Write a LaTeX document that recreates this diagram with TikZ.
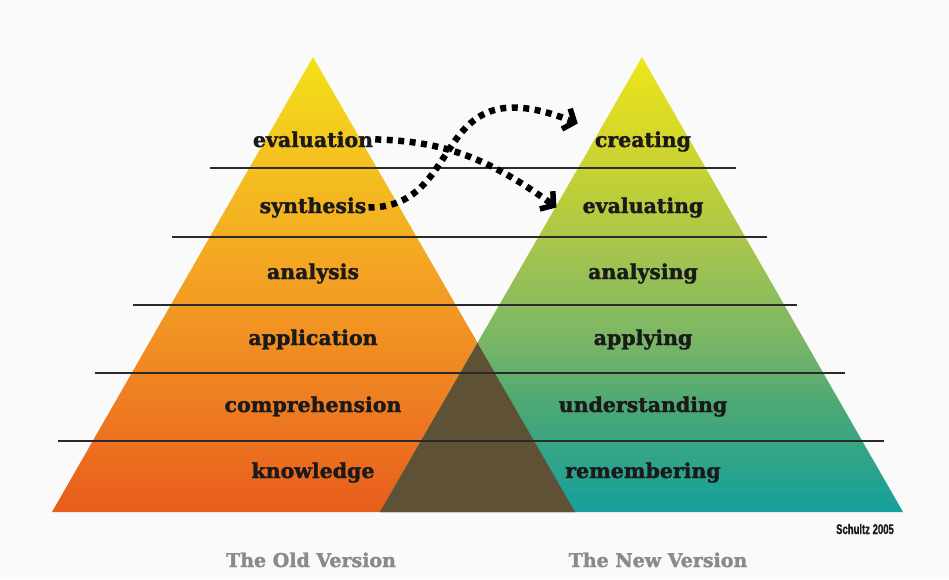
\documentclass[tikz,border=0pt]{standalone}
\usepackage{fontspec}
\usetikzlibrary{arrows.meta}
\newfontfamily\slabfont{DejaVu Serif}[BoldFeatures={FakeBold=1.6}]
\newfontfamily\notefont{Liberation Sans}[BoldFeatures={FakeBold=0.6}]
% colours
\definecolor{paper}{HTML}{FAFAFA}
\definecolor{ink}{HTML}{1A1A1A}
\definecolor{tierline}{HTML}{2A2A2A}
\definecolor{capgray}{HTML}{8A8A8A}
\definecolor{overlap}{HTML}{5E5135}
\definecolor{oldA}{HTML}{E85D1C}
\definecolor{oldB}{HTML}{EE7D22}
\definecolor{oldC}{HTML}{F3A423}
\definecolor{oldD}{HTML}{F5C71E}
\definecolor{oldE}{HTML}{F0E218}
\definecolor{newA}{HTML}{14A09C}
\definecolor{newB}{HTML}{4DA875}
\definecolor{newC}{HTML}{7AB666}
\definecolor{newD}{HTML}{9CC254}
\definecolor{newE}{HTML}{B6CB3E}
\definecolor{newF}{HTML}{D3D62B}
\definecolor{newG}{HTML}{EEE619}
\pgfdeclareverticalshading{oldver}{100bp}{color(0bp)=(oldA); color(25bp)=(oldA); color(37bp)=(oldB); color(51.6bp)=(oldC); color(66bp)=(oldD); color(75bp)=(oldE); color(100bp)=(oldE)}
\pgfdeclareverticalshading{newver}{100bp}{color(0bp)=(newA); color(25bp)=(newA); color(36.8bp)=(newB); color(43.9bp)=(newC); color(51.6bp)=(newD); color(58.2bp)=(newE); color(65.9bp)=(newF); color(75bp)=(newG); color(100bp)=(newG)}
\begin{document}
\begin{tikzpicture}[x=1pt, y=-1pt, line join=round,
	tier/.style={draw=tierline, line width=1.6pt},
	level/.style={anchor=base, inner sep=2pt, text=ink, font=\slabfont\bfseries\fontsize{20.5}{20.5}\selectfont},
	caption/.style={anchor=base, text=capgray, font=\slabfont\bfseries\fontsize{19}{19}\selectfont},
	move/.style={line width=6.5pt, dash pattern=on 6pt off 5.5pt, -{Straight Barb[length=9pt, width=22pt, line width=5.5pt]}}]
	\fill[paper] (0,0) rectangle (949,579);
	\useasboundingbox (0,0) rectangle (949,579);
	% the two pyramids
	\shade[shading=oldver] (52,512) -- (313,57) -- (575,512) -- cycle;
	\shade[shading=newver] (380,512) -- (642,57) -- (903,512) -- cycle;
	\fill[overlap] (380,512) -- (477.5,343) -- (575,512) -- cycle;
	% tier lines
	\foreach \y/\xa/\xb in {168/210/736, 237/172/767, 305/133/797, 373/95/845, 441/58/884}{
		\draw[tier] (\xa,\y) -- (\xb,\y);
	}
	% old levels
	\foreach \lbl/\y in {evaluation/147, synthesis/213, analysis/279, application/345, comprehension/412, knowledge/478}{
		\node[level] (\lbl) at (313,\y) {\lbl};
	}
	% new levels
	\foreach \lbl/\y in {creating/147, evaluating/213, analysing/279, applying/345, understanding/412, remembering/478}{
		\node[level] (\lbl) at (643,\y) {\lbl};
	}
	\node[caption] (oldcap) at (311,567) {The Old Version};
	\node[caption] (newcap) at (658,567) {The New Version};
	\node[anchor=base, text=ink, font=\notefont\bfseries\fontsize{14}{14}\selectfont] (credit) at (865,534) {\scalebox{0.68}[1]{Schultz 2005}};
	% arrows
	\coordinate (tipA) at ([xshift=-24pt]evaluating.west);
	\coordinate (tipB) at ([shift={(-15,-18)}]creating.west);
	\draw[move] (evaluation.east) .. controls +(60,2) and +(-75,-55) .. (tipA);
	\draw[move] (synthesis.east) .. controls +(100,0) and +(-150,-60) .. (tipB);
\end{tikzpicture}
\end{document}
